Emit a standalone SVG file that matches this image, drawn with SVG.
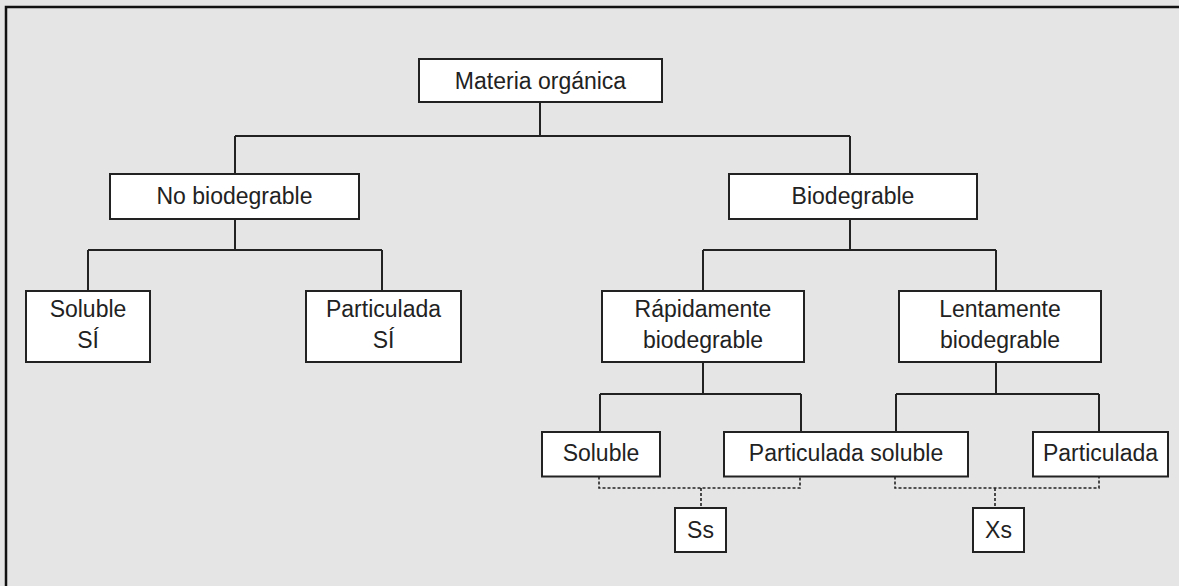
<svg xmlns="http://www.w3.org/2000/svg" width="1179" height="586" viewBox="0 0 1179 586">
  <style>
    .bg { fill: #e5e5e5; }
    .frame { stroke: #111; stroke-width: 2.5; fill: none; }
    .box { fill: #ffffff; stroke: #222; stroke-width: 2; }
    .lbl { font-family: "Liberation Sans", Arial, sans-serif; font-size: 23px; fill: #222; text-anchor: middle; }
    .conn { fill: none; stroke: #222; stroke-width: 2; }
    .dash { fill: none; stroke: #222; stroke-width: 1.6; stroke-dasharray: 3 2; }
  </style>
  <rect class="bg" x="0" y="0" width="1179" height="586"/>
  <path class="frame" d="M6,586 V7 H1179"/>

  <g id="connectors">
    <path class="conn" d="M540,102 V136 M235,136 H850 M235,136 V174 M850,136 V174"/>
    <path class="conn" d="M235,219 V250 M88,250 H382 M88,250 V291 M382,250 V291"/>
    <path class="conn" d="M850,219 V250 M703,250 H996 M703,250 V291 M996,250 V291"/>
    <path class="conn" d="M703,362 V394 M600,394 H801 M600,394 V432 M801,394 V432"/>
    <path class="conn" d="M996,362 V394 M896,394 H1099 M896,394 V432 M1099,394 V432"/>
    <path class="dash" d="M599,476.5 V488 H800 V476.5 M701,488 V508"/>
    <path class="dash" d="M895,476.5 V488 H1099 V476.5 M995,488 V508"/>
  </g>

  <g id="materia-organica">
    <rect class="box" x="419" y="59" width="243" height="43"/>
    <text class="lbl" x="540.5" y="89">Materia orgánica</text>
  </g>
  <g id="no-biodegradable">
    <rect class="box" x="110" y="174" width="249" height="45"/>
    <text class="lbl" x="234.5" y="204">No biodegrable</text>
  </g>
  <g id="biodegradable">
    <rect class="box" x="729" y="174" width="248" height="45"/>
    <text class="lbl" x="853" y="204">Biodegrable</text>
  </g>
  <g id="soluble-si">
    <rect class="box" x="26" y="291" width="124" height="71"/>
    <text class="lbl" x="88" y="317">Soluble</text>
    <text class="lbl" x="88" y="348">SÍ</text>
  </g>
  <g id="particulada-si">
    <rect class="box" x="306" y="291" width="155" height="71"/>
    <text class="lbl" x="383.5" y="317">Particulada</text>
    <text class="lbl" x="383.5" y="348">SÍ</text>
  </g>
  <g id="rapidamente">
    <rect class="box" x="602" y="291" width="202" height="71"/>
    <text class="lbl" x="703" y="317">Rápidamente</text>
    <text class="lbl" x="703" y="348">biodegrable</text>
  </g>
  <g id="lentamente">
    <rect class="box" x="899" y="291" width="202" height="71"/>
    <text class="lbl" x="1000" y="317">Lentamente</text>
    <text class="lbl" x="1000" y="348">biodegrable</text>
  </g>
  <g id="soluble">
    <rect class="box" x="542" y="432" width="118" height="44.5"/>
    <text class="lbl" x="601" y="461">Soluble</text>
  </g>
  <g id="particulada-soluble">
    <rect class="box" x="724" y="432" width="244" height="44.5"/>
    <text class="lbl" x="846" y="461">Particulada soluble</text>
  </g>
  <g id="particulada">
    <rect class="box" x="1033" y="432" width="135" height="44.5"/>
    <text class="lbl" x="1100.5" y="461">Particulada</text>
  </g>
  <g id="ss">
    <rect class="box" x="675" y="508" width="51" height="44"/>
    <text class="lbl" x="700.5" y="538">Ss</text>
  </g>
  <g id="xs">
    <rect class="box" x="973" y="508" width="51" height="44"/>
    <text class="lbl" x="998.5" y="538">Xs</text>
  </g>
</svg>
